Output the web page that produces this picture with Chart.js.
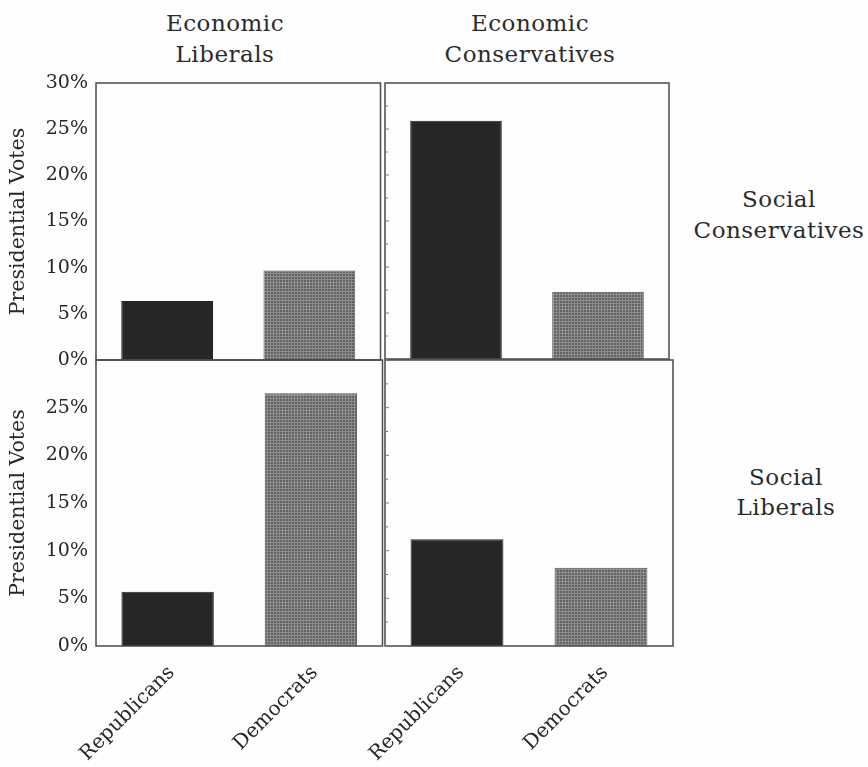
<!DOCTYPE html>
<html>
<head>
<meta charset="utf-8">
<script src="https://cdn.jsdelivr.net/npm/chart.js@4"></script>
<style>
  body { margin:0; background:#fefefe; }
  #wrap { position:relative; width:868px; height:767px; overflow:hidden; font-family:'DejaVu Serif',serif; color:#2b2b2b; }
  #wrap canvas { position:absolute; }
  .lbl { position:absolute; width:220px; text-align:center; font-size:23px; line-height:31px; letter-spacing:0.5px; white-space:nowrap; }
</style>
</head>
<body>
<div id="wrap">
  <div class="lbl" style="left:115px;top:8px">Economic<br>Liberals</div>
  <div class="lbl" style="left:420px;top:8px">Economic<br>Conservatives</div>
  <div class="lbl" style="left:669px;top:184px">Social<br>Conservatives</div>
  <div class="lbl" style="left:676px;top:462px;line-height:30px">Social<br>Liberals</div>
  <canvas id="c-tl"></canvas>
  <canvas id="c-tr"></canvas>
  <canvas id="c-bl"></canvas>
  <canvas id="c-br"></canvas>
</div>
<script>
// ---- data (percent of presidential votes) ----
const parties = ['Republicans', 'Democrats'];
const yTicks  = [0, 5, 10, 15, 20, 25, 30];
const socConsEconLib  = [6.4, 9.7];   // top-left
const socConsEconCons = [25.9, 7.3];  // top-right
const socLibEconLib   = [5.7, 26.5];  // bottom-left
const socLibEconCons  = [11.2, 8.2];  // bottom-right

const FONT = 'DejaVu Serif';
const INK = '#272727';

// grey stipple for the Democrat bars
function stipple() {
  const t = document.createElement('canvas');
  t.width = 3; t.height = 3;
  const g = t.getContext('2d');
  g.fillStyle = '#8e8e8e'; g.fillRect(0, 0, 3, 3);
  g.fillStyle = '#626262'; g.fillRect(1, 1, 2, 2);
  return g.createPattern(t, 'repeat');
}
const demFill = stipple();

// frame round the plot area + small inward ticks on the right panels
const framePlugin = {
  id: 'frame',
  afterDatasetsDraw(chart, args, opts) {
    const { ctx, chartArea: a } = chart;
    ctx.save();
    ctx.strokeStyle = '#4a4a4a';
    ctx.lineWidth = 1.5;
    ctx.strokeRect(a.left, a.top, a.right - a.left, a.bottom - a.top);
    if (opts.innerTicks) {
      const y = chart.scales.y;
      ctx.lineWidth = 1;
      ctx.strokeStyle = '#777';
      for (let i = 0; i < yTicks.length; i++) {
        const v = yTicks[i];
        const py = y.getPixelForValue(v);
        ctx.beginPath(); ctx.moveTo(a.left, py); ctx.lineTo(a.left + 4, py); ctx.stroke();
        if (i < yTicks.length - 1) {
          const pm = y.getPixelForValue((v + yTicks[i + 1]) / 2);
          ctx.beginPath(); ctx.moveTo(a.left, pm); ctx.lineTo(a.left + 3, pm); ctx.stroke();
        }
      }
    }
    ctx.restore();
  }
};

function panel(id, box, pad, values, o) {
  const cv = document.getElementById(id);
  cv.style.left = box[0] + 'px'; cv.style.top = box[1] + 'px';
  cv.style.width = box[2] + 'px'; cv.style.height = box[3] + 'px';
  return new Chart(cv, {
    type: 'bar',
    data: {
      labels: parties,
      datasets: [{
        data: values,
        backgroundColor: [INK, demFill],
        borderColor: ['#222', '#555'],
        borderWidth: 1,
        barPercentage: 0.645,
        categoryPercentage: 1.0,
      }],
    },
    options: {
      responsive: false, animation: false, devicePixelRatio: 1,
      layout: { padding: pad },
      plugins: { legend: { display: false }, tooltip: { enabled: false }, frame: { innerTicks: !o.yAxis } },
      scales: {
        x: {
          display: o.xAxis,
          grid: { display: false }, border: { display: false },
          ticks: { color: INK, font: { family: FONT, size: 20 }, minRotation: 45, maxRotation: 45, padding: 7, labelOffset: 4 },
          afterFit: s => { s.height = o.xAxis ? 121 : 0; s.paddingLeft = 0; s.paddingRight = 0; },
        },
        y: {
          display: o.yAxis,
          min: 0, max: 30,
          grid: { display: false, drawTicks: false }, border: { display: false },
          afterBuildTicks: s => { s.ticks = yTicks.map(v => ({ value: v })); },
          ticks: {
            color: INK, padding: 8, font: { family: FONT, size: 19 },
            callback: v => (o.hideTop && v === 30) ? '' : v + '%',
          },
          title: { display: true, text: 'Presidential Votes', color: INK, font: { family: FONT, size: 20.5 }, padding: { top: 6, bottom: 0 } },
          afterFit: s => { s.width = o.yAxis ? 96 : 0; s.paddingTop = 0; s.paddingBottom = 0; },
        },
      },
    },
    plugins: [framePlugin],
  });
}

// canvas boxes: [left, top, width, height]; padding sets the plot frame
panel('c-tl', [0, 60, 382, 320],   { top: 23, bottom: 20, left: 0, right: 1.5 },  socConsEconLib,  { xAxis: false, yAxis: true });
panel('c-tr', [280, 60, 395, 320], { top: 23, bottom: 21, left: 105, right: 6 },  socConsEconCons, { xAxis: false, yAxis: false });
panel('c-bl', [0, 350, 384, 417],  { top: 10, bottom: 0, left: 0, right: 1.5 },   socLibEconLib,   { xAxis: true, yAxis: true, hideTop: true });
panel('c-br', [280, 350, 400, 417],{ top: 10, bottom: 0, left: 105, right: 7 },   socLibEconCons,  { xAxis: true, yAxis: false });
</script>
</body>
</html>
